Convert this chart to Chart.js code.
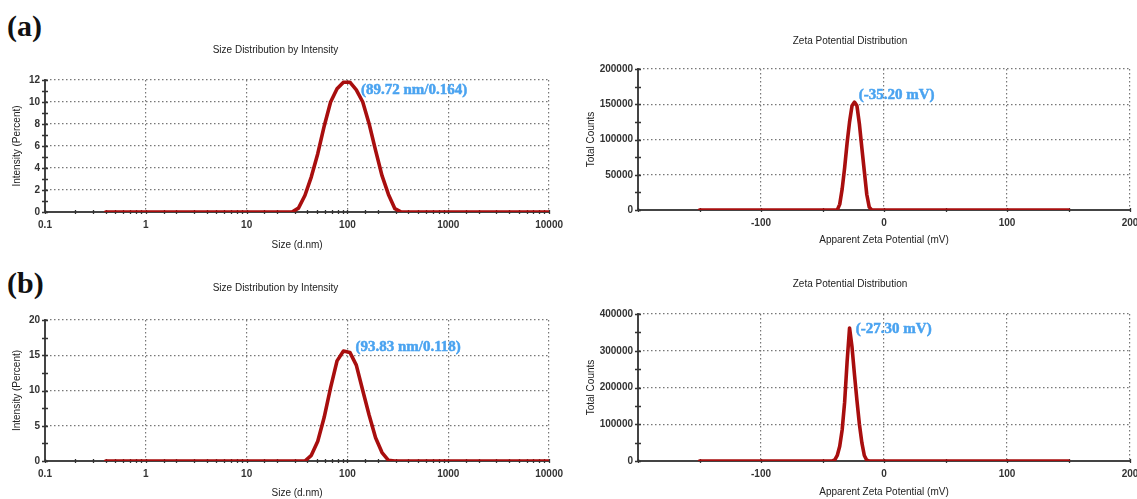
<!DOCTYPE html>
<html>
<head>
<meta charset="utf-8">
<script src="https://cdn.jsdelivr.net/npm/chart.js@4.4.1/dist/chart.umd.min.js"></script>
<style>
  html, body { margin: 0; padding: 0; background: #fff; }
  body { width: 1137px; height: 499px; position: relative; overflow: hidden; }
  .box { position: absolute; }
  .tag { position: absolute; font: bold 30px 'Liberation Serif', 'Times New Roman', serif; color: #111; line-height: 34px; }
</style>
</head>
<body>
<div class="tag" style="left:7px; top:9px">(a)</div>
<div class="tag" style="left:7px; top:266px">(b)</div>

<div class="box" style="left:0; top:30px; width:570px; height:225px"><canvas id="sizeA"></canvas></div>
<div class="box" style="left:570px; top:20px; width:580px; height:235px"><canvas id="zetaA"></canvas></div>
<div class="box" style="left:0; top:255px; width:570px; height:244px"><canvas id="sizeB"></canvas></div>
<div class="box" style="left:570px; top:255px; width:580px; height:244px"><canvas id="zetaB"></canvas></div>

<script>
// size distribution (d.nm) vs intensity (%)
const sizeBinsA = [0.4, 24.36, 28.21, 32.67, 37.84, 43.82, 50.75, 58.77, 68.06, 78.82, 91.28, 105.7, 122.4, 141.8, 164.2, 190.1, 220.2, 255.0, 295.3, 342.0, 10000];
const intensityA = [0, 0, 0, 0.35, 1.5, 3.2, 5.3, 7.8, 10.0, 11.2, 11.8, 11.8, 11.1, 10.0, 8.0, 5.6, 3.3, 1.6, 0.3, 0, 0];

const sizeBinsB = [0.4, 37.84, 43.82, 50.75, 58.77, 68.06, 78.82, 91.28, 105.7, 122.4, 141.8, 164.2, 190.1, 220.2, 255.0, 295.3, 10000];
const intensityB = [0, 0, 0.8, 2.8, 6.2, 10.4, 14.2, 15.6, 15.4, 13.6, 10.0, 6.5, 3.3, 1.2, 0.1, 0, 0];

// zeta potential (mV) vs total counts
const zetaMvA = [-150, -40, -38, -36, -34, -32, -30, -28, -26, -24, -22, -20, -18, -16, -14, -12, -10, 150];
const countsA = [0, 0, 0, 8000, 30000, 60000, 95000, 125000, 148000, 153000, 148000, 122000, 88000, 55000, 22000, 4000, 0, 0];

const zetaMvB = [-150, -42, -40, -38, -36, -34, -32, -30, -28, -26, -24, -22, -20, -18, -16, -14, -12, 150];
const countsB = [0, 0, 3000, 15000, 40000, 85000, 160000, 270000, 362000, 310000, 235000, 165000, 100000, 50000, 15000, 2000, 0, 0];

// peak labels: text and the data point where the text starts
const peakTexts = ['(89.72 nm/0.164)', '(-35.20 mV)', '(93.83 nm/0.118)', '(-27.30 mV)'];
const peakAnchors = [[136, 11.1], [-20.6, 163000], [120, 16.1], [-22.9, 360000]];

Chart.defaults.font.family = "'Liberation Sans', Arial, sans-serif";
Chart.defaults.animation = false;

const isPow10 = v => {
  const l = Math.log10(v);
  return Math.abs(l - Math.round(l)) < 1e-9;
};

// small tick marks crossing both axes, at every tick
const tickMarks = {
  id: 'tickMarks',
  beforeDatasetsDraw(chart) {
    const {ctx, chartArea, scales} = chart;
    ctx.save();
    ctx.strokeStyle = '#333';
    ctx.lineWidth = 1.3;
    ctx.beginPath();
    scales.x.ticks.forEach(t => {
      const px = Math.round(scales.x.getPixelForValue(t.value)) + 0.5;
      ctx.moveTo(px, chartArea.bottom - 2);
      ctx.lineTo(px, chartArea.bottom + 2);
    });
    scales.y.ticks.forEach(t => {
      const py = Math.round(scales.y.getPixelForValue(t.value)) + 0.5;
      ctx.moveTo(chartArea.left - 3, py);
      ctx.lineTo(chartArea.left + 3, py);
    });
    ctx.stroke();
    ctx.restore();
  }
};

const peakLabel = {
  id: 'peakLabel',
  afterDatasetsDraw(chart, args, opts) {
    const {ctx, scales} = chart;
    const px = scales.x.getPixelForValue(opts.x);
    const py = scales.y.getPixelForValue(opts.y);
    ctx.save();
    ctx.font = "bold 15px 'Liberation Serif', serif";
    ctx.fillStyle = '#4aa3f0';
    ctx.strokeStyle = '#4aa3f0';
    ctx.lineWidth = 0.5;
    ctx.textBaseline = 'middle';
    ctx.textAlign = 'left';
    ctx.fillText(opts.text, px, py);
    ctx.strokeText(opts.text, px, py);
    ctx.restore();
  }
};

const tickFont = {size: 10, weight: 'bold'};
const titleFont = {size: 10, weight: 'normal', lineHeight: 1.2};
const dots = {color: '#444', width: 2, dash: [1.5, 2.5]};

function makeChart(id, cfg) {
  return new Chart(document.getElementById(id), {
    type: 'line',
    data: {
      datasets: [{
        data: cfg.xs.map((x, i) => ({x: x, y: cfg.ys[i]})),
        borderColor: '#a80e0e',
        borderWidth: 3.6,
        pointRadius: 0,
        tension: 0,
        borderJoinStyle: 'round',
        borderCapStyle: 'round'
      }]
    },
    options: {
      responsive: true,
      maintainAspectRatio: false,
      layout: {padding: {left: 0, right: cfg.padRight, top: 0, bottom: 0}},
      plugins: {
        legend: {display: false},
        tooltip: {enabled: false},
        title: {
          display: true,
          text: cfg.title,
          color: '#222',
          font: titleFont,
          padding: cfg.titlePad
        },
        peakLabel: cfg.label
      },
      scales: {
        x: {
          type: cfg.xType,
          min: cfg.xMin,
          max: cfg.xMax,
          ticks: {
            stepSize: cfg.xStep,
            autoSkip: false,
            maxRotation: 0,
            padding: 7,
            color: '#333',
            font: tickFont,
            callback: cfg.xLabel
          },
          grid: {
            drawTicks: false,
            lineWidth: 1.2,
            color: c => cfg.xGrid(c.tick.value) ? '#777' : 'rgba(0,0,0,0)'
          },
          border: dots,
          title: {display: true, text: cfg.xTitle, color: '#222', font: titleFont, padding: cfg.xTitlePad},
          afterFit: s => { s.height = cfg.xHeight; }
        },
        y: {
          min: 0,
          max: cfg.yMax,
          ticks: {
            stepSize: cfg.yStep,
            autoSkip: false,
            padding: 5,
            color: '#333',
            font: tickFont,
            callback: v => (v % cfg.yLabelStep === 0 ? String(v) : '')
          },
          grid: {
            drawTicks: false,
            lineWidth: 1.2,
            color: c => (c.tick.value % cfg.yLabelStep === 0 ? '#777' : 'rgba(0,0,0,0)')
          },
          border: dots,
          title: {display: true, text: cfg.yTitle, color: '#222', font: titleFont, padding: cfg.yTitlePad},
          afterFit: s => { s.width = cfg.yWidth; }
        }
      }
    },
    plugins: [tickMarks, peakLabel]
  });
}

const sizeBase = {
  title: 'Size Distribution by Intensity',
  xType: 'logarithmic', xMin: 0.1, xMax: 10000,
  xLabel: v => (isPow10(v) ? String(v) : ''),
  xGrid: isPow10,
  xTitle: 'Size (d.nm)',
  yTitle: 'Intensity (Percent)',
  yWidth: 45, padRight: 19,
  yTitlePad: {top: 11, bottom: 0}
};

const zetaBase = {
  title: 'Zeta Potential Distribution',
  xType: 'linear', xMin: -200, xMax: 200, xStep: 50,
  xLabel: v => (v % 100 === 0 && v !== -200 ? String(v) : ''),
  xGrid: v => v % 100 === 0,
  xTitle: 'Apparent Zeta Potential (mV)',
  yTitle: 'Total Counts',
  yWidth: 68, padRight: 20,
  yTitlePad: {top: 15, bottom: 0}
};

makeChart('sizeA', Object.assign({}, sizeBase, {
  xs: sizeBinsA, ys: intensityA,
  yMax: 12, yStep: 1, yLabelStep: 2,
  titlePad: {top: 14, bottom: 24},
  xTitlePad: {top: 0, bottom: 4}, xHeight: 43,
  label: {text: peakTexts[0], x: peakAnchors[0][0], y: peakAnchors[0][1]}
}));

makeChart('zetaA', Object.assign({}, zetaBase, {
  xs: zetaMvA, ys: countsA,
  yMax: 200000, yStep: 25000, yLabelStep: 50000,
  titlePad: {top: 15, bottom: 22},
  xTitlePad: {top: 0, bottom: 9}, xHeight: 45,
  label: {text: peakTexts[1], x: peakAnchors[1][0], y: peakAnchors[1][1]}
}));

makeChart('sizeB', Object.assign({}, sizeBase, {
  xs: sizeBinsB, ys: intensityB,
  yMax: 20, yStep: 2.5, yLabelStep: 5,
  titlePad: {top: 27, bottom: 26},
  xTitlePad: {top: 0, bottom: 0}, xHeight: 38,
  label: {text: peakTexts[2], x: peakAnchors[2][0], y: peakAnchors[2][1]}
}));

makeChart('zetaB', Object.assign({}, zetaBase, {
  xs: zetaMvB, ys: countsB,
  yMax: 400000, yStep: 50000, yLabelStep: 100000,
  titlePad: {top: 23, bottom: 24},
  xTitlePad: {top: 0, bottom: 1}, xHeight: 38,
  label: {text: peakTexts[3], x: peakAnchors[3][0], y: peakAnchors[3][1]}
}));
</script>
</body>
</html>
